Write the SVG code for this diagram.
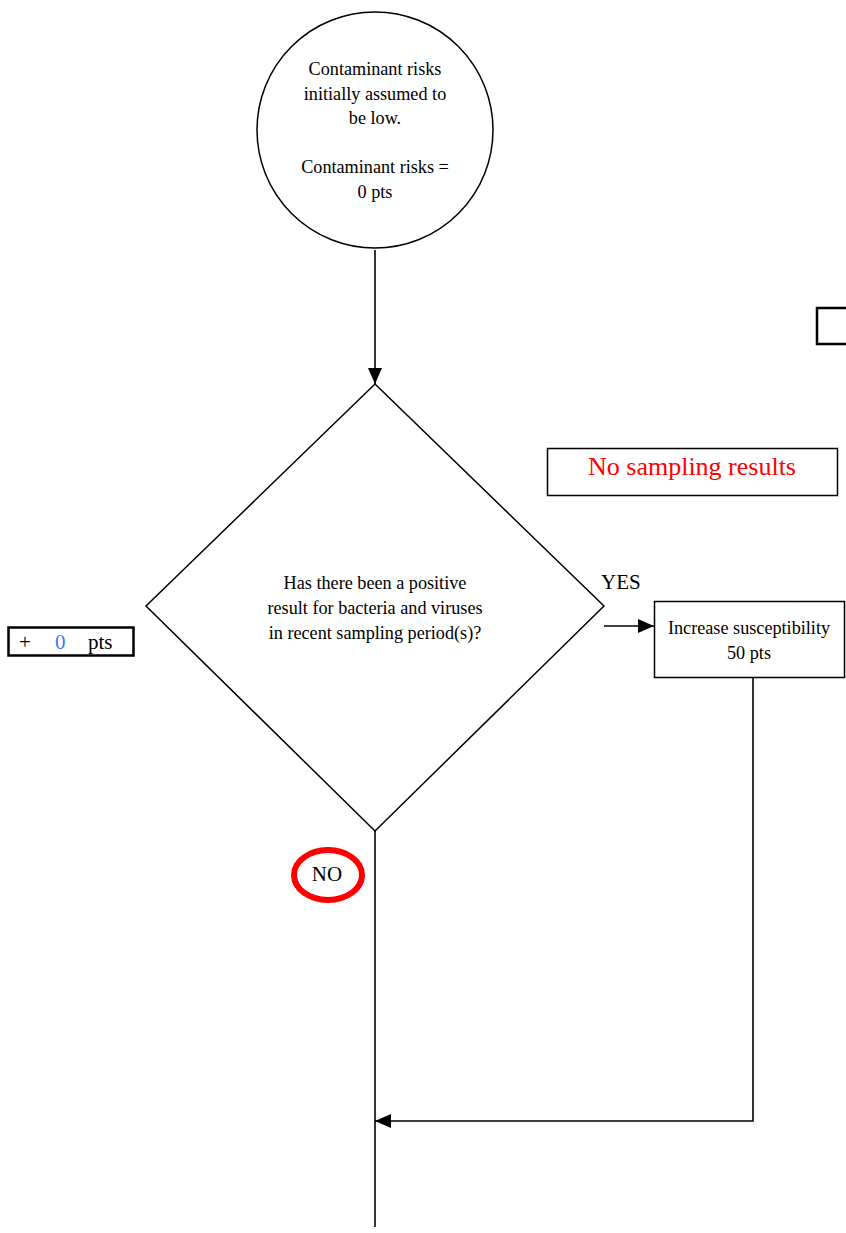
<svg xmlns="http://www.w3.org/2000/svg" width="846" height="1233" viewBox="0 0 846 1233">
  <style>
    .shape { fill: #fff; stroke: #000; stroke-width: 1.5; }
    .thick { fill: #fff; stroke: #000; stroke-width: 2.5; }
    .t { font-family: "Liberation Serif", "Times New Roman", serif; font-size: 18.2px; fill: #000; text-anchor: middle; }
    .lbl { font-family: "Liberation Serif", "Times New Roman", serif; font-size: 21px; fill: #000; }
    .edge { fill: none; stroke: #000; stroke-width: 1.6; }
  </style>
  <defs>
    <marker id="arrow" markerWidth="16" markerHeight="14" refX="16" refY="7" orient="auto" markerUnits="userSpaceOnUse">
      <path d="M0,0 L16,7 L0,14 Z" fill="#000"/>
    </marker>
  </defs>

  <g id="connectors">
    <line class="edge" x1="375" y1="250" x2="375" y2="384" marker-end="url(#arrow)"/>
    <line class="edge" x1="604" y1="626" x2="654" y2="626" marker-end="url(#arrow)"/>
    <polyline class="edge" points="753,678 753,1121 375,1121" marker-end="url(#arrow)"/>
    <line class="edge" x1="375" y1="831" x2="375" y2="1227"/>
  </g>

  <g id="start">
    <circle class="shape" cx="375" cy="130" r="118"/>
    <text class="t" x="375" y="75">Contaminant risks</text>
    <text class="t" x="375" y="100">initially assumed to</text>
    <text class="t" x="375" y="124">be low.</text>
    <text class="t" x="375" y="173">Contaminant risks =</text>
    <text class="t" x="375" y="198">0 pts</text>
  </g>

  <g id="corner-box">
    <rect class="thick" x="817" y="308" width="32" height="36"/>
  </g>

  <g id="no-sampling">
    <rect class="shape" x="547.5" y="448.5" width="290" height="47"/>
    <text x="692" y="475" font-family="Liberation Serif, Times New Roman, serif" font-size="26" fill="#ff0000" text-anchor="middle">No sampling results</text>
  </g>

  <g id="decision">
    <polygon class="shape" points="375,384 604,606 375,831 146,606"/>
    <text class="t" x="375" y="589">Has there been a positive</text>
    <text class="t" x="375" y="614">result for bacteria and viruses</text>
    <text class="t" x="375" y="639">in recent sampling period(s)?</text>
  </g>

  <g id="points-box">
    <rect class="thick" x="8.5" y="627.5" width="125" height="28"/>
    <text class="lbl" x="19" y="649">+</text>
    <text class="lbl" x="55" y="649" style="fill:#4477ff">0</text>
    <text class="lbl" x="88" y="649">pts</text>
  </g>

  <g id="yes-label">
    <text class="lbl" x="601" y="589">YES</text>
  </g>

  <g id="increase">
    <rect class="shape" x="654.5" y="601.5" width="190" height="76"/>
    <text class="t" x="749" y="634">Increase susceptibility</text>
    <text class="t" x="749" y="659">50 pts</text>
  </g>

  <g id="no-label">
    <ellipse cx="328" cy="875" rx="34" ry="25" fill="none" stroke="#ff0000" stroke-width="6"/>
    <text class="lbl" x="327" y="881" text-anchor="middle">NO</text>
  </g>
</svg>
